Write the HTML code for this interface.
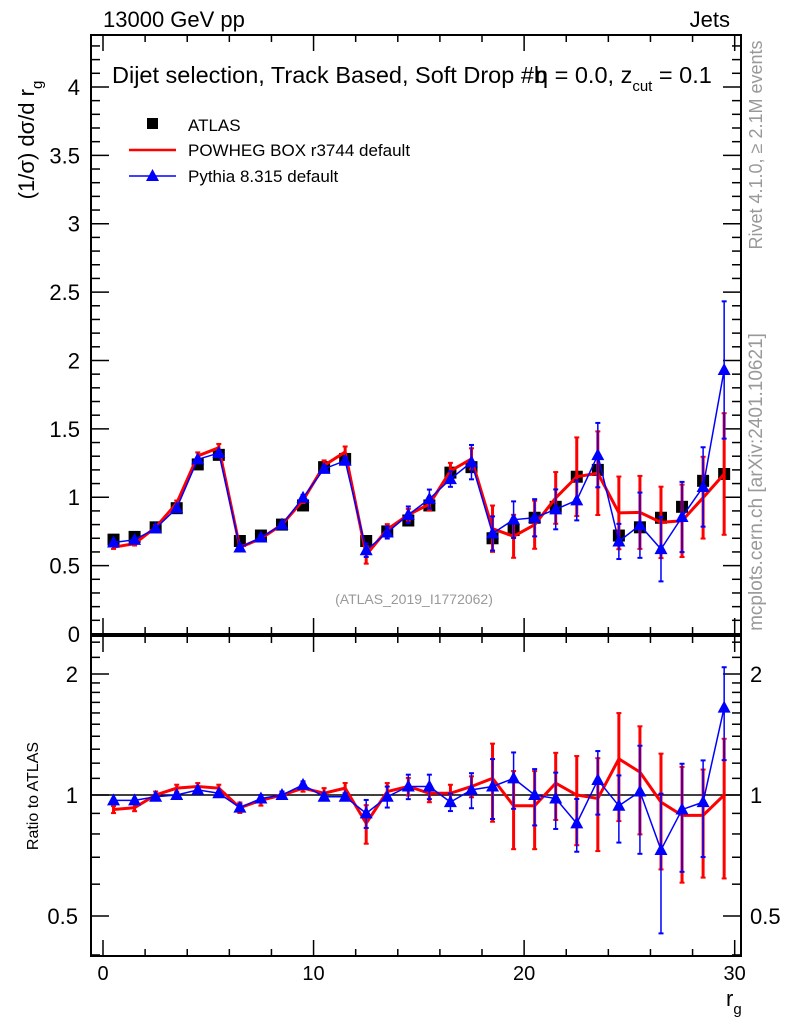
<!DOCTYPE html>
<html><head><meta charset="utf-8"><style>
body{margin:0;background:#fff;width:786px;height:1024px;overflow:hidden}
svg{display:block;font-family:"Liberation Sans",sans-serif}
</style></head><body>
<svg id="chart" width="786" height="1024" xmlns="http://www.w3.org/2000/svg"></svg>
<script>
const bins = [0.5,1.5,2.5,3.5,4.5,5.5,6.5,7.5,8.5,9.5,10.5,11.5,12.5,13.5,14.5,15.5,16.5,17.5,18.5,19.5,20.5,21.5,22.5,23.5,24.5,25.5,26.5,27.5,28.5,29.5];
const dataVals = [0.69,0.71,0.78,0.92,1.24,1.31,0.68,0.72,0.80,0.94,1.22,1.28,0.68,0.75,0.83,0.94,1.18,1.22,0.70,0.76,0.85,0.93,1.15,1.20,0.72,0.78,0.85,0.93,1.12,1.17];
const powhegRatio = [0.92,0.93,1.0,1.04,1.05,1.04,0.93,0.97,1.0,1.04,1.01,1.04,0.85,1.02,1.05,1.01,1.01,1.05,1.10,0.94,0.94,1.07,1.0,0.98,1.23,1.14,0.96,0.89,0.89,1.0];
const pythiaRatio = [0.97,0.97,0.99,1.0,1.03,1.01,0.93,0.98,1.0,1.06,0.99,0.99,0.90,0.99,1.05,1.05,0.96,1.03,1.05,1.10,1.0,0.98,0.85,1.09,0.94,1.02,0.73,0.92,0.96,1.65];
const powhegRelErr = [0.02,0.02,0.02,0.02,0.02,0.02,0.03,0.03,0.02,0.02,0.03,0.03,0.11,0.05,0.05,0.05,0.05,0.06,0.22,0.22,0.22,0.19,0.25,0.26,0.30,0.30,0.32,0.32,0.30,0.38];
const pythiaRelErr = [0.01,0.01,0.01,0.01,0.01,0.01,0.02,0.02,0.02,0.02,0.02,0.02,0.08,0.06,0.07,0.07,0.05,0.10,0.17,0.16,0.16,0.16,0.15,0.18,0.19,0.30,0.38,0.30,0.27,0.26];
const mainTicks = [0,0.5,1,1.5,2,2.5,3,3.5,4];
const mainTickLabels = ["0","0.5","1","1.5","2","2.5","3","3.5","4"];
const ratioTicks = [0.5,1,2];
const ratioTickLabels = ["0.5","1","2"];
const xTicks = [0,10,20,30];
const xTickLabels = ["0","10","20","30"];

const L=91,R=741,MT=35,MB=634,RT=636,RB=956;
const X0=-0.57,X1=30.3;
const sx=v=>L+(v-X0)/(X1-X0)*(R-L);
const sy=v=>MB-(v/4.38)*(MB-MT);
const ry=v=>795-Math.log2(v)*121;
const svg=document.getElementById('chart');
const NS="http://www.w3.org/2000/svg";
function mk(tag,attrs,parent){const e=document.createElementNS(NS,tag);for(const k in attrs)e.setAttribute(k,attrs[k]);(parent||svg).appendChild(e);return e;}
function txt(s,attrs,name,parent){const t=mk('text',attrs,parent);t.textContent=s;return t;}

const f1=mk('rect',{x:L,y:MT,width:R-L,height:MB-MT,fill:'none',stroke:'#000','stroke-width':2});


const f2=mk('rect',{x:L,y:RT,width:R-L,height:RB-RT,fill:'none',stroke:'#000','stroke-width':2});



for(let v=0;v<=30;v+=2){
  const big=v%10===0, len=big?16:7;
  for(const [y0,d] of [[MB,-1],[MT,1],[RB,-1],[RT,1]]){
    const t=mk('line',{x1:sx(v),x2:sx(v),y1:y0,y2:y0+d*len,stroke:'#000','stroke-width':1.5});
    
    
  }
}
xTicks.forEach((v,i)=>txt(xTickLabels[i],{x:sx(v),y:980,'font-size':20,'text-anchor':'middle'},'x-tick-label'));
for(let v=0;v<=4.35;v+=0.1){
  const big=Math.abs(v*2-Math.round(v*2))<1e-6, len=big?18:9;
  for(const [x0,d] of [[L,1],[R,-1]]){
    const t=mk('line',{x1:x0,x2:x0+d*len,y1:sy(v),y2:sy(v),stroke:'#000','stroke-width':1.5});
    
    
  }
}
mainTicks.forEach((v,i)=>txt(mainTickLabels[i],{x:80,y:sy(v)+8,'font-size':22,'text-anchor':'end'},'y-tick-label'));
const rminor=[0.4,0.5,0.6,0.7,0.8,0.9,1,1.1,1.2,1.3,1.4,1.5,1.6,1.7,1.8,1.9,2,2.2,2.4];
rminor.forEach(v=>{
  const big=ratioTicks.includes(v), len=big?18:9;
  if(ry(v)<RT||ry(v)>RB)return;
  for(const [x0,d] of [[L,1],[R,-1]]){
    const t=mk('line',{x1:x0,x2:x0+d*len,y1:ry(v),y2:ry(v),stroke:'#000','stroke-width':1.5});
    
    
  }
});
ratioTicks.forEach((v,i)=>{
  txt(ratioTickLabels[i],{x:78,y:ry(v)+8,'font-size':22,'text-anchor':'end'},'ratio-y-tick-label');
  txt(ratioTickLabels[i],{x:750,y:ry(v)+8,'font-size':22},'ratio-y-tick-label-right');
});
const ref=mk('line',{x1:L,x2:R,y1:ry(1),y2:ry(1),stroke:'#000','stroke-width':1.5});



function series(vals,errs,ys,color,w,name,tri){
  const g=mk('g',{});
  
  
  vals.forEach((v,i)=>{
    const x=sx(bins[i]),e=v*errs[i];
    const b=mk('line',{x1:x,x2:x,y1:ys(v-e),y2:ys(v+e),stroke:color,'stroke-width':w},g);
    
    
    [v-e,v+e].forEach(c=>{const cap=mk('line',{x1:x-2.5,x2:x+2.5,y1:ys(c),y2:ys(c),stroke:color,'stroke-width':2},g);
      
      });
  });
  const p=mk('polyline',{points:vals.map((v,i)=>sx(bins[i])+','+ys(v)).join(' '),fill:'none',stroke:color,'stroke-width':w},g);
  
  
  if(tri) vals.forEach((v,i)=>{const x=sx(bins[i]),y=ys(v);
    const m=mk('polygon',{points:`${x},${y-7} ${x-6.5},${y+5} ${x+6.5},${y+5}`,fill:color},g);
    
    });
}
const dg=mk('g',{});


dataVals.forEach((v,i)=>{const s=mk('rect',{x:sx(bins[i])-6,y:sy(v)-6,width:12,height:12,fill:'#000'},dg);
  
  });
const powVals=dataVals.map((d,i)=>d*powhegRatio[i]);
const pyVals=dataVals.map((d,i)=>d*pythiaRatio[i]);
series(powVals,powhegRelErr,sy,'#f00',3,'powheg-series',false);
series(pyVals,pythiaRelErr,sy,'#00f',1.5,'pythia-series',true);
series(powhegRatio,powhegRelErr,ry,'#f00',3,'powheg-ratio',false);
series(pythiaRatio,pythiaRelErr,ry,'#00f',1.5,'pythia-ratio',true);

txt('13000 GeV pp',{x:103,y:27,'font-size':22},'energy-label');
txt('Jets',{x:730,y:27,'font-size':22,'text-anchor':'end'},'process-label');
txt('Dijet selection, Track Based, Soft Drop #b',{x:112,y:83,'font-size':23.5},'plot-title');
const t2=txt('',{x:535,y:83,'font-size':23.5},'plot-title-cont');
t2.innerHTML='η = 0.0, z<tspan font-size="15" dy="8">cut</tspan><tspan dy="-8"> = 0.1</tspan>';
const lg=mk('g',{});


const ls=mk('rect',{x:147,y:118,width:11,height:11,fill:'#000'},lg);


txt('ATLAS',{x:188,y:131,'font-size':17},'legend-atlas',lg);
const lr=mk('line',{x1:129,x2:176,y1:150,y2:150,stroke:'#f00','stroke-width':2.5},lg);


txt('POWHEG BOX r3744 default',{x:188,y:156,'font-size':17},'legend-powheg',lg);
const lb=mk('line',{x1:129,x2:176,y1:176,y2:176,stroke:'#00f','stroke-width':1.5},lg);


const lt=mk('polygon',{points:'152.5,169 146,181 159,181',fill:'#00f'},lg);


txt('Pythia 8.315 default',{x:188,y:182,'font-size':17},'legend-pythia',lg);
txt('(ATLAS_2019_I1772062)',{x:414,y:604,'font-size':14,fill:'#999','text-anchor':'middle'},'analysis-id');
const yt=txt('',{transform:'translate(34,140) rotate(-90)','font-size':22,'text-anchor':'middle'},'y-axis-title');
yt.innerHTML='(1/σ) dσ/d r<tspan font-size="15" dy="8">g</tspan>';
txt('Ratio to ATLAS',{transform:'translate(38,796) rotate(-90)','font-size':16,'text-anchor':'middle'},'ratio-axis-title');
const xt=txt('',{x:726,y:1006,'font-size':22},'x-axis-title');
xt.innerHTML='r<tspan font-size="15" dy="8">g</tspan>';
txt('Rivet 4.1.0, ≥ 2.1M events',{transform:'translate(762,145) rotate(-90)','font-size':18,fill:'#999','text-anchor':'middle'},'rivet-label');
txt('mcplots.cern.ch [arXiv:2401.10621]',{transform:'translate(762,482) rotate(-90)','font-size':19,fill:'#999','text-anchor':'middle'},'mcplots-label');
</script>
</body></html>
